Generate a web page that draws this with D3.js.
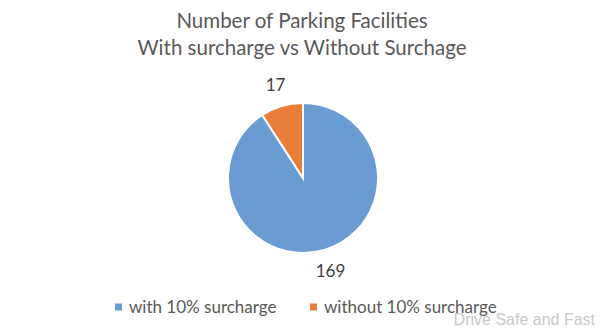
<!DOCTYPE html>
<html>
<head>
	<meta charset="utf-8">
	<title>Number of Parking Facilities</title>
	<script src="https://cdn.jsdelivr.net/npm/d3@7"></script>
	<style>
		body { margin: 0; background: #fff; }
		svg text { font-family: Lato, "Open Sans", sans-serif; }
	</style>
</head>
<body>
<svg id="chart" width="600" height="330"></svg>
<script>
var categories = ["with 10% surcharge", "without 10% surcharge"];
var values = [169, 17];
var colors = ["#6A9BD3", "#E97D3A"];
var title_lines = ["Number of Parking Facilities", "With surcharge vs Without Surchage"];

var svg = d3.select("#chart");
var cx = 303, cy = 178, radius = 75;

// title
svg.selectAll("text.title")
	.data(title_lines).enter()
	.append("text")
	.attr("class", "title")
	.attr("x", 302)
	.attr("y", function (d, i) { return 28 + i * 27; })
	.attr("text-anchor", "middle")
	.attr("font-size", "20.5px")
	.attr("fill", "#595959")
	.text(function (d) { return d; });

var pie = d3.pie().sort(null).value(function (d) { return d; });
var arcs = pie(values);
var arc = d3.arc().innerRadius(0).outerRadius(radius);
var label_arc = d3.arc().innerRadius(97).outerRadius(97);

var g = svg.append("g").attr("transform", "translate(" + cx + "," + cy + ")");

g.selectAll("path")
	.data(arcs).enter()
	.append("path")
	.attr("d", arc)
	.attr("fill", function (d, i) { return colors[i]; })
	.attr("stroke", "#fff")
	.attr("stroke-width", 2);

g.selectAll("text.label")
	.data(arcs).enter()
	.append("text")
	.attr("class", "label")
	.attr("transform", function (d) { return "translate(" + label_arc.centroid(d) + ")"; })
	.attr("text-anchor", "middle")
	.attr("dy", "0.35em")
	.attr("font-size", "17px")
	.attr("fill", "#404040")
	.text(function (d) { return d.data; });

// legend
var legend_x = [115, 310];
var legend = svg.selectAll("g.legend")
	.data(categories).enter()
	.append("g")
	.attr("class", "legend")
	.attr("transform", function (d, i) { return "translate(" + legend_x[i] + ",307)"; });
legend.append("rect")
	.attr("x", 0).attr("y", -3.5)
	.attr("width", 7).attr("height", 7)
	.attr("fill", function (d, i) { return colors[i]; });
legend.append("text")
	.attr("x", 14)
	.attr("dy", "0.35em")
	.attr("font-size", "17px")
	.attr("fill", "#595959")
	.text(function (d) { return d; });

// watermark
svg.append("text")
	.attr("x", 595)
	.attr("y", 325)
	.attr("text-anchor", "end")
	.attr("font-size", "16px")
	.attr("fill", "#c8c8c8")
	.style("font-family", "'Liberation Sans', Arial, sans-serif")
	.text("Drive Safe and Fast");
</script>
</body>
</html>
